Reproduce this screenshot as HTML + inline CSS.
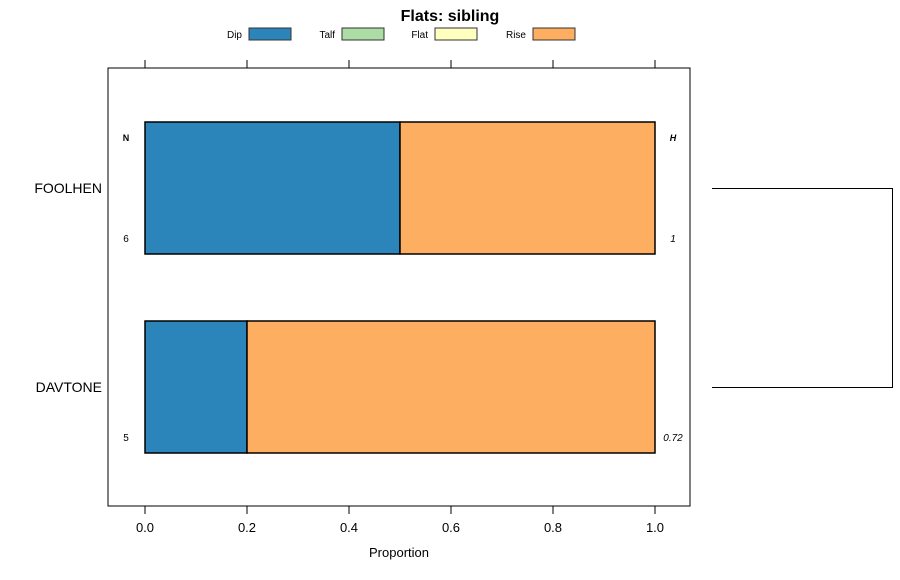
<!DOCTYPE html>
<html><head><meta charset="utf-8"><style>
body{margin:0;background:#fff;}
svg{display:block;font-family:"Liberation Sans",sans-serif;}
</style></head><body>
<svg id="chart" width="900" height="580" viewBox="0 0 900 580">
<text x="450" y="21" text-anchor="middle" font-size="16" font-weight="bold">Flats: sibling</text>
<g id="legend"></g>
<rect x="108" y="68" width="582" height="438" fill="none" stroke="#000" stroke-width="1"/>
<g id="axes"></g>
<g id="bars"></g>
<text x="126" y="141" text-anchor="middle" font-size="9" font-weight="bold">N</text>
<text x="673" y="141" text-anchor="middle" font-size="9" font-weight="bold" font-style="italic">H</text>
<text x="399" y="557" text-anchor="middle" font-size="13">Proportion</text>
<g stroke="#000" stroke-width="1" fill="none">
<path d="M712 188.5H892.5V387.5H712"/>
</g>
</svg>
<script>
const categories = ["FOOLHEN","DAVTONE"];
const seriesNames = ["Dip","Talf","Flat","Rise"];
const seriesColors = ["#2c85ba","#abdda4","#ffffbf","#fdae61"];
const dipValues = [0.5,0.2];
const talfValues = [0,0];
const flatValues = [0,0];
const riseValues = [0.5,0.8];
const nValues = ["6","5"];
const hValues = ["1","0.72"];
const xTicks = [0,0.2,0.4,0.6,0.8,1.0];
const xTickLabels = ["0.0","0.2","0.4","0.6","0.8","1.0"];

const NS="http://www.w3.org/2000/svg";
function mk(tag,attrs,parent){const e=document.createElementNS(NS,tag);for(const k in attrs)e.setAttribute(k,attrs[k]);parent.appendChild(e);return e;}
const xScale=v=>145+v*510;
const rowCenter=i=>188+i*199;
const barH=132;

const axes=document.getElementById('axes');
xTicks.forEach((t,i)=>{
  const x=xScale(t);
  const tb=mk('line',{x1:x,x2:x,y1:506,y2:514,stroke:'#000'},axes);
  
  
  const tt=mk('line',{x1:x,x2:x,y1:60,y2:68,stroke:'#000'},axes);
  
  
  const lb=mk('text',{x:x,y:532,'text-anchor':'middle','font-size':13},axes);
  lb.textContent=xTickLabels[i];
  
  
});

const bars=document.getElementById('bars');
const series=[dipValues,talfValues,flatValues,riseValues];
categories.forEach((c,i)=>{
  const cy=rowCenter(i);
  let cum=0;
  series.forEach((s,j)=>{
    const v=s[i];
    if(v>0){
      const r=mk('rect',{x:xScale(cum),y:cy-barH/2,width:xScale(cum+v)-xScale(cum),height:barH,fill:seriesColors[j],stroke:'#000','stroke-width':1.5},bars);
      
      
    }
    cum+=v;
  });
  const lab=mk('text',{x:102,y:cy+5,'text-anchor':'end','font-size':14},bars);
  lab.textContent=c;
  
  
  const n=mk('text',{x:126,y:cy+54,'text-anchor':'middle','font-size':10},bars);
  n.textContent=nValues[i];
  
  
  const h=mk('text',{x:673,y:cy+54,'text-anchor':'middle','font-size':10,'font-style':'italic'},bars);
  h.textContent=hValues[i];
  
  
});

const legend=document.getElementById('legend');
const legBoxX=[249,342,435,533];
seriesNames.forEach((s,i)=>{
  const t=mk('text',{x:legBoxX[i]-7,y:38,'text-anchor':'end','font-size':10},legend);
  t.textContent=s;
  
  
  const r=mk('rect',{x:legBoxX[i],y:28,width:42,height:12,fill:seriesColors[i],stroke:'#333','stroke-width':1},legend);
  
  
});
</script>
</body></html>
